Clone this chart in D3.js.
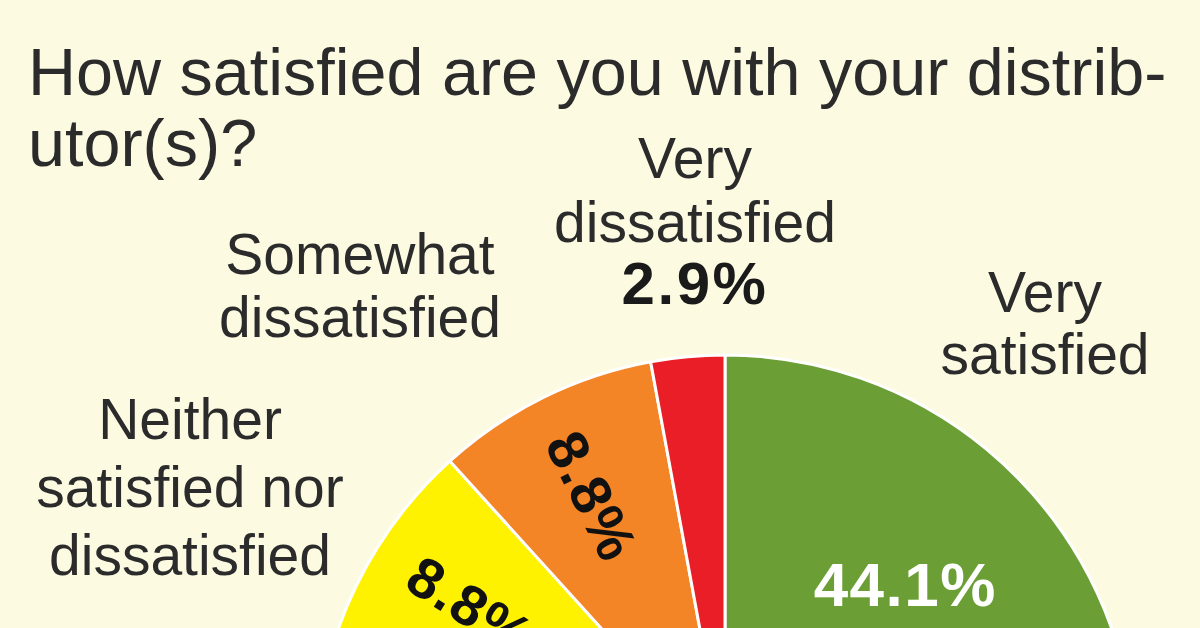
<html>
  <head>
    <style>
      body { margin: 0; background: #fdfae2; }
      text { font-family: "Liberation Sans", Arial, sans-serif; }
    </style>
  </head>
  <body>
    <script src="https://d3js.org/d3.v7.min.js"></script>
    <script>
    var width = 1200, height = 628;

    // slices, clockwise from 12 o'clock
    var categories = ["Very satisfied", "Somewhat satisfied", "Neither satisfied nor dissatisfied", "Somewhat dissatisfied", "Very dissatisfied"];
    var values = [44.1, 35.3, 8.8, 8.8, 2.9];
    var colors = ["#6b9e34", "#2f7a3a", "#fff200", "#f38526", "#e91e27"];

    var titleLines = ["How satisfied are you with your distrib-", "utor(s)?"];

    var svg = d3.select("body")
        .append("svg")
        .attr("width", width)
        .attr("height", height);

    svg.append("rect")
        .attr("width", width)
        .attr("height", height)
        .attr("fill", "#fdfae2");

    var cx = 725, cy = 765, radius = 410;

    var pie = d3.pie().sort(null).value(function(d){ return d.value; });
    var arc = d3.arc().innerRadius(0).outerRadius(radius);

    var data = categories.map(function(c, i){ return { name: c, value: values[i], color: colors[i] }; });
    var arcs = pie(data);

    var g = svg.append("g").attr("transform", "translate(" + cx + "," + cy + ")");

    g.selectAll("path")
        .data(arcs)
        .enter().append("path")
          .attr("d", arc)
          .attr("fill", function(d){ return d.data.color; })
          .attr("stroke", "#ffffff")
          .attr("stroke-width", 3)
          .attr("stroke-linejoin", "round");

    // percentage labels inside the slices
    function fmt(v){ return v.toFixed(1) + "%"; }

    // big green one sits flat
    var p0 = d3.pointRadial(Math.PI / 4, 255);
    g.append("text")
       .attr("x", p0[0])
       .attr("y", p0[1] + 21)
       .attr("text-anchor", "middle")
       .attr("fill", "#ffffff")
       .style("font-weight", "bold")
       .style("font-size", "62px")
       .style("letter-spacing", "1.5px")
       .text(fmt(values[0]));

    // the two 8.8% read inward along the radius
    [2, 3].forEach(function(i){
      var a = (arcs[i].startAngle + arcs[i].endAngle) / 2;
      var p = d3.pointRadial(a, 300);
      var rot = a * 180 / Math.PI + 90;
      g.append("text")
         .attr("transform", "translate(" + p[0] + "," + p[1] + ") rotate(" + rot + ")")
         .attr("y", 20)
         .attr("text-anchor", "middle")
         .attr("fill", "#111")
         .style("font-weight", "bold")
         .style("font-size", "57px")
         .style("letter-spacing", "1.5px")
         .text(fmt(values[i]));
    });

    // title
    svg.append("text")
       .attr("x", 28)
       .attr("y", 95)
       .attr("fill", "#2b2b2b")
       .style("font-size", "66.5px")
       .selectAll("tspan")
       .data(titleLines)
       .enter().append("tspan")
         .attr("x", 28)
         .attr("dy", function(d, i){ return i ? 71 : 0; })
         .text(function(d){ return d; });

    // outside category labels
    var labels = [
      { lines: ["Very", "satisfied"], x: 1045, y: 312, dy: 62 },
      { lines: ["Very", "dissatisfied"], x: 695, y: 178, dy: 64, pct: fmt(values[4]) },
      { lines: ["Somewhat", "dissatisfied"], x: 360, y: 274, dy: 63 },
      { lines: ["Neither", "satisfied nor", "dissatisfied"], x: 190, y: 439, dy: 68 }
    ];

    labels.forEach(function(l){
      var t = svg.append("text")
         .attr("text-anchor", "middle")
         .attr("fill", "#2b2b2b")
         .style("font-size", "57px");
      l.lines.forEach(function(s, i){
        t.append("tspan")
         .attr("x", l.x)
         .attr("y", l.y + i * l.dy)
         .text(s);
      });
      if (l.pct) {
        svg.append("text")
           .attr("x", l.x)
           .attr("y", l.y + l.lines.length * l.dy - 2)
           .attr("text-anchor", "middle")
           .attr("fill", "#1a1a1a")
           .style("font-weight", "bold")
           .style("font-size", "60px")
           .style("letter-spacing", "2.5px")
           .text(l.pct);
      }
    });
    </script>
  </body>
</html>
